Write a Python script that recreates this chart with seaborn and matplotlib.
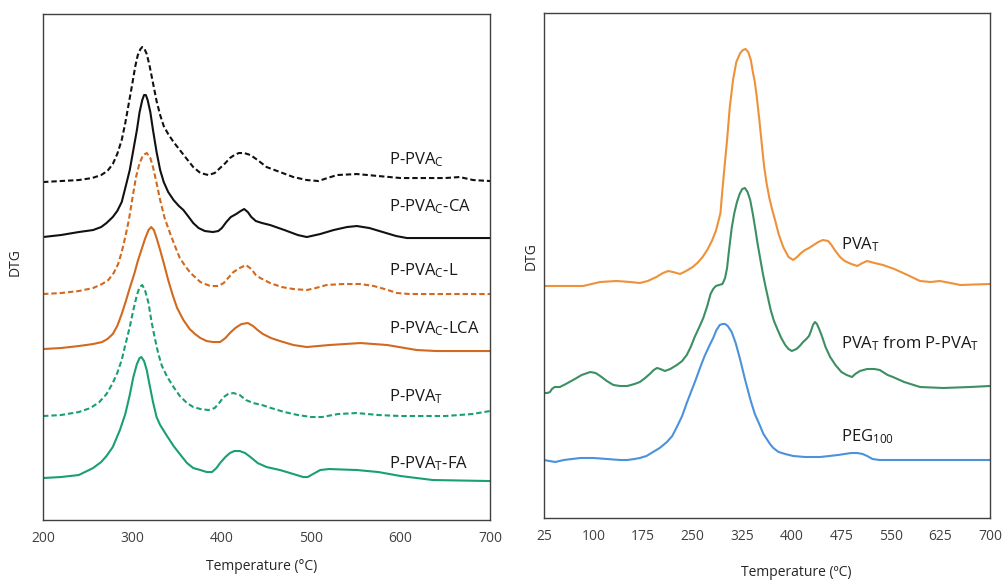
import matplotlib
matplotlib.use("Agg")
import matplotlib.pyplot as plt
import seaborn as sns
import pandas as pd

# ---- Left panel: DTG of modified PVA samples (arbitrary stacked DTG units) ----
temp_pvac = [200, 220, 240, 255, 265, 272, 278, 283, 288, 292, 296, 300, 303, 306, 309, 311, 313,
             316, 319, 323, 327, 331, 335, 340, 346, 353, 360, 368, 376, 385, 392, 398, 404, 409,
             414, 419, 425, 432, 440, 450, 465, 480, 495, 508, 518, 529, 551, 575, 600, 629, 650,
             666, 681, 700]
dtg_pvac = [338, 339, 340, 342, 345, 349, 356, 366, 380, 397, 417, 437, 453, 465, 471, 473, 472,
            466, 455, 437, 419, 405, 394, 386, 378, 370, 362, 353, 347, 345, 347, 352, 357, 362,
            365, 367, 367, 365, 360, 353, 348, 343, 340, 339, 342, 345, 346, 344, 342, 342, 342,
            343, 340, 339]

temp_pvac_ca = [200, 220, 240, 256, 265, 271, 278, 283, 288, 292, 297, 301, 305, 308, 311, 313, 315,
                317, 320, 323, 327, 331, 335, 340, 346, 352, 357, 363, 368, 374, 381, 390, 396, 400,
                405, 410, 416, 421, 425, 429, 433, 438, 445, 454, 470, 485, 495, 510, 525, 540, 551,
                565, 580, 595, 607, 630, 700]
dtg_pvac_ca = [283, 285, 288, 290, 293, 297, 303, 309, 318, 332, 350, 370, 390, 408, 420, 425, 425,
               420, 408, 390, 368, 350, 338, 328, 320, 314, 310, 303, 297, 292, 289, 288, 289, 292,
               298, 303, 306, 309, 311, 308, 303, 299, 297, 295, 290, 285, 283, 286, 290, 293, 294,
               292, 288, 284, 282, 282, 282]

temp_pvac_l = [200, 220, 240, 256, 266, 273, 279, 284, 288, 292, 296, 300, 304, 308, 312, 316, 320,
               323, 327, 331, 336, 342, 348, 353, 359, 365, 376, 387, 396, 402, 407, 413, 420, 427,
               433, 438, 443, 454, 467, 480, 495, 505, 517, 535, 555, 570, 582, 596, 610, 700]
dtg_pvac_l = [226, 227, 229, 232, 236, 240, 247, 256, 268, 283, 300, 322, 343, 357, 365, 367, 362,
              353, 337, 320, 302, 287, 273, 262, 254, 247, 238, 234, 234, 237, 242, 248, 252, 255,
              251, 245, 242, 237, 233, 231, 230, 232, 235, 236, 236, 234, 231, 227, 226, 226]

temp_pvac_lca = [200, 220, 240, 256, 266, 272, 278, 283, 288, 293, 297, 302, 306, 310, 314, 318, 321,
                 324, 327, 331, 335, 340, 345, 350, 357, 364, 370, 376, 383, 390, 398, 404, 409, 415,
                 422, 429, 435, 440, 446, 455, 465, 480, 495, 520, 555, 585, 618, 640, 700]
dtg_pvac_lca = [171, 172, 174, 176, 178, 181, 186, 194, 206, 220, 232, 246, 259, 270, 281, 290, 293,
                290, 282, 270, 257, 240, 225, 212, 200, 191, 186, 182, 179, 178, 178, 182, 187, 192,
                196, 197, 194, 190, 186, 182, 179, 175, 173, 175, 177, 175, 170, 169, 169]

temp_pvat = [200, 220, 240, 253, 263, 271, 278, 283, 288, 292, 297, 301, 305, 308, 311, 314, 318,
             321, 325, 329, 333, 339, 346, 353, 361, 368, 376, 385, 392, 397, 402, 407, 413, 420,
             427, 435, 445, 455, 470, 485, 500, 512, 530, 551, 575, 600, 650, 680, 700]
dtg_pvat = [104, 105, 108, 112, 118, 126, 137, 147, 160, 175, 193, 210, 225, 233, 235, 230, 217,
            200, 182, 166, 154, 143, 133, 124, 117, 113, 111, 110, 112, 117, 123, 126, 127, 125,
            120, 117, 115, 112, 108, 105, 103, 103, 106, 107, 105, 104, 104, 106, 109]

temp_pvat_fa = [200, 220, 240, 256, 265, 271, 278, 286, 292, 297, 301, 305, 308, 310, 313, 316, 319,
                323, 327, 331, 338, 346, 353, 361, 368, 376, 383, 389, 394, 398, 404, 409, 414, 420,
                426, 432, 440, 450, 465, 480, 491, 496, 502, 510, 520, 551, 575, 600, 636, 700]
dtg_pvat_fa = [42, 43, 45, 52, 58, 64, 73, 90, 106, 125, 143, 156, 162, 163, 159, 150, 136,
               118, 103, 95, 85, 74, 66, 57, 52, 50, 48, 48, 52, 57, 63, 67, 69, 69,
               67, 63, 57, 53, 50, 46, 43, 43, 46, 50, 51, 50, 48, 44, 40, 39]

# ---- Right panel: DTG of PVA_T, recovered PVA_T and PEG100 ----
temp_pva_t = [25, 45, 84, 97, 110, 135, 155, 170, 182, 195, 205, 213, 220, 231, 240, 250, 257, 265,
              272, 279, 285, 289, 292, 294, 298, 302, 306, 311, 316, 322, 326, 330, 334, 338, 341,
              344, 347, 351, 355, 358, 362, 366, 370, 375, 380, 387, 395, 402, 408, 414, 420, 426,
              433, 440, 447, 455, 460, 466, 473, 480, 490, 499, 507, 514, 525, 538, 555, 575, 594,
              610, 624, 640, 655, 700]
dtg_pva_t = [232, 232, 232, 234, 236, 237, 236, 235, 237, 241, 245, 247, 246, 244, 247, 251, 255, 261,
             268, 277, 287, 297, 305, 321, 350, 378, 410, 438, 456, 465, 468, 469, 466, 458, 446,
             436, 421, 397, 371, 352, 334, 320, 309, 297, 284, 271, 261, 258, 261, 265, 268, 270,
             273, 276, 278, 277, 273, 267, 261, 257, 254, 252, 255, 257, 255, 253, 249, 243, 237,
             236, 237, 235, 233, 234]

temp_pva_rec = [25, 30, 34, 37, 41, 49, 58, 69, 82, 95, 103, 110, 120, 130, 140, 151, 162, 170, 178,
                185, 191, 196, 201, 208, 216, 226, 234, 241, 247, 253, 260, 266, 272, 277, 281, 285,
                290, 295, 299, 302, 305, 309, 313, 317, 321, 325, 329, 333, 337, 341, 345, 348, 352,
                356, 360, 364, 368, 373, 378, 384, 390, 395, 400, 407, 412, 417, 422, 426, 429, 432,
                435, 438, 442, 446, 451, 458, 466, 475, 483, 491, 496, 503, 514, 525, 533, 545, 553,
                570, 594, 629, 670, 700]
dtg_pva_rec = [125, 125, 126, 129, 131, 131, 134, 138, 143, 146, 145, 142, 137, 133, 132, 132, 134, 136,
               140, 144, 148, 150, 149, 147, 149, 153, 157, 163, 171, 181, 191, 200, 212, 224, 229,
               232, 233, 234, 240, 250, 268, 290, 305, 316, 324, 329, 330, 326, 318, 304, 288, 275,
               260, 245, 232, 220, 208, 197, 189, 180, 173, 169, 167, 169, 172, 176, 179, 182, 187,
               193, 196, 194, 188, 181, 171, 161, 153, 146, 143, 141, 144, 147, 149, 149, 148, 143,
               141, 136, 131, 130, 131, 132]

temp_peg = [25, 33, 42, 55, 80, 100, 120, 140, 151, 162, 170, 180, 190, 200, 211, 219, 226, 234, 241,
            248, 255, 261, 268, 275, 281, 286, 291, 295, 299, 303, 309, 315, 322, 329, 337, 344, 352,
            357, 362, 367, 372, 380, 390, 402, 420, 443, 470, 490, 499, 507, 514, 522, 533, 600, 700]
dtg_peg = [58, 57, 56, 58, 60, 60, 59, 58, 58, 59, 60, 62, 66, 70, 76, 82, 91, 102, 115,
           127, 139, 150, 162, 172, 180, 188, 193, 194, 194, 192, 186, 175, 158, 139, 119, 104, 92,
           84, 79, 74, 70, 66, 64, 62, 61, 61, 63, 65, 65, 64, 62, 59, 58, 58, 58]

left_labels = ["P-PVA$_\\mathregular{C}$", "P-PVA$_\\mathregular{C}$-CA", "P-PVA$_\\mathregular{C}$-L",
               "P-PVA$_\\mathregular{C}$-LCA", "P-PVA$_\\mathregular{T}$", "P-PVA$_\\mathregular{T}$-FA"]
right_labels = ["PVA$_\\mathregular{T}$", "PVA$_\\mathregular{T}$ from P-PVA$_\\mathregular{T}$",
                "PEG$_\\mathregular{100}$"]
left_ticks = [200, 300, 400, 500, 600, 700]
right_ticks = [25, 100, 175, 250, 325, 400, 475, 550, 625, 700]

sns.set_theme(style="white")
plt.rcParams["font.family"] = ["Open Sans", "DejaVu Sans"]
plt.rcParams["mathtext.default"] = "regular"
plt.rcParams["mathtext.fontset"] = "custom"
plt.rcParams["mathtext.rm"] = "Open Sans"

fig = plt.figure(figsize=(10.03, 5.80), dpi=100)
ax1 = fig.add_axes([0.0429, 0.1034, 0.4457, 0.8724])
ax2 = fig.add_axes([0.5424, 0.1069, 0.4447, 0.8707])

dash = (0, (2.6, 1.4))
left_series = [
    (temp_pvac, dtg_pvac, "#111111", dash),
    (temp_pvac_ca, dtg_pvac_ca, "#111111", "-"),
    (temp_pvac_l, dtg_pvac_l, "#D2691E", dash),
    (temp_pvac_lca, dtg_pvac_lca, "#D2691E", "-"),
    (temp_pvat, dtg_pvat, "#1AA06E", dash),
    (temp_pvat_fa, dtg_pvat_fa, "#1AA06E", "-"),
]
for t, v, c, ls in left_series:
    df = pd.DataFrame({"T": t, "DTG": v})
    sns.lineplot(data=df, x="T", y="DTG", ax=ax1, color=c, linewidth=1.5,
                 linestyle=ls, sort=False, estimator=None)

right_series = [
    (temp_pva_t, dtg_pva_t, "#EE9139"),
    (temp_pva_rec, dtg_pva_rec, "#3C8F63"),
    (temp_peg, dtg_peg, "#4B92DB"),
]
for t, v, c in right_series:
    df = pd.DataFrame({"T": t, "DTG": v})
    sns.lineplot(data=df, x="T", y="DTG", ax=ax2, color=c, linewidth=1.5,
                 sort=False, estimator=None)

# curve labels
left_label_y = [356, 309, 245, 187, 119, 52]
for lab, y in zip(left_labels, left_label_y):
    ax1.text(587, y, lab, fontsize=12, color="#1a1a1a", va="baseline", ha="left")
right_label_y = [269, 170, 77]
for lab, y in zip(right_labels, right_label_y):
    ax2.text(474.5, y, lab, fontsize=12, color="#1a1a1a", va="baseline", ha="left")

ax1.set_xlim(200, 700)
ax1.set_ylim(0, 506)
ax2.set_xlim(25, 700)
ax2.set_ylim(0, 505)
ax1.set_xticks(left_ticks)
ax2.set_xticks(right_ticks)

for ax in (ax1, ax2):
    ax.set_yticks([])
    ax.tick_params(axis="x", length=0, pad=8, labelsize=10, labelcolor="#404040")
    for sp in ax.spines.values():
        sp.set_visible(True)
        sp.set_color("#404040")
        sp.set_linewidth(1.0)

ax1.set_xlabel("Temperature (°C)", fontsize=10, color="#262626")
ax1.set_ylabel("DTG", fontsize=10, color="#262626")
ax1.xaxis.set_label_coords(0.49, -0.077)
ax1.yaxis.set_label_coords(-0.045, 0.51)

ax2.set_xlabel("Temperature (ºC)", fontsize=10, color="#262626")
ax2.set_ylabel("DTG", fontsize=10, color="#262626")
ax2.xaxis.set_label_coords(0.565, -0.093)
ax2.yaxis.set_label_coords(-0.011, 0.518)

fig.savefig("out.png", dpi=100)
